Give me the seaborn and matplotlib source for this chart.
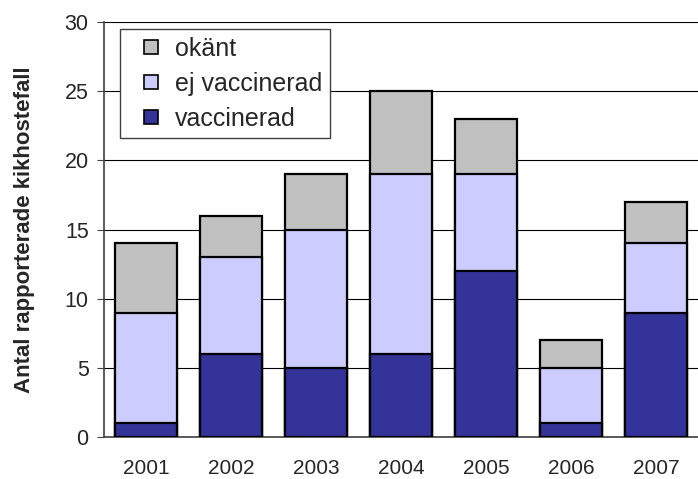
import numpy as np
import pandas as pd
import matplotlib
matplotlib.use('Agg')
import matplotlib.pyplot as plt
import seaborn as sns
from matplotlib.lines import Line2D

years = ['2001', '2002', '2003', '2004', '2005', '2006', '2007']
vaccinerad = [1, 6, 5, 6, 12, 1, 9]
ej_vaccinerad = [8, 7, 10, 13, 7, 4, 5]
okant = [5, 3, 4, 6, 4, 2, 3]

c_okant = '#C0C0C0'
c_ej = '#CCCCFF'
c_vacc = '#333399'

sns.set_style('white')
plt.rcParams['font.family'] = ['Liberation Sans', 'DejaVu Sans']

df = pd.DataFrame({'year': years, 'vacc': vaccinerad, 'ej': ej_vaccinerad, 'okant': okant})
df['top2'] = df['vacc'] + df['ej']
df['top3'] = df['top2'] + df['okant']

fig = plt.figure(figsize=(6.98, 4.79), dpi=100)
ax = fig.add_axes([0.149, 0.0877, 0.852, 0.866])

# stacked bars: draw cumulative totals, largest first
for col, color in [('top3', c_okant), ('top2', c_ej), ('vacc', c_vacc)]:
    sns.barplot(data=df, x='year', y=col, color=color, width=0.73,
                edgecolor='black', linewidth=1.6, saturation=1, ax=ax, zorder=3)

ax.set_ylim(0, 30)
ax.set_xlim(-0.5, 6.5)
ax.set_yticks(range(0, 31, 5))
ax.yaxis.grid(True, color='black', linewidth=0.8, zorder=0)
ax.set_axisbelow(True)
for s in ['top', 'right']:
    ax.spines[s].set_visible(False)
ax.spines['left'].set_color('#404040')
ax.spines['bottom'].set_color('#404040')
ax.spines['left'].set_linewidth(1.2)
ax.spines['bottom'].set_linewidth(1.2)

ax.set_xticks(np.arange(7))
ax.set_xticklabels(years, fontsize=15)
ax.set_xticks(np.arange(-0.5, 7, 1), minor=True)
ax.tick_params(axis='x', which='major', length=0, pad=16)
ax.tick_params(axis='x', which='minor', length=5, color='#404040', direction='out')
ax.tick_params(axis='y', labelsize=15.5, length=5, pad=6, color='#404040',
               direction='out', left=True)
ax.set_xlabel('')
ax.set_ylabel('Antal rapporterade kikhostefall', fontsize=16, fontweight='bold', labelpad=21)

handles = [Line2D([], [], marker='s', linestyle='none', markersize=10.5,
                  markerfacecolor=c, markeredgecolor='black', markeredgewidth=1.2, label=lab)
           for c, lab in [(c_okant, 'okänt'), (c_ej, 'ej vaccinerad'), (c_vacc, 'vaccinerad')]]
leg = ax.legend(handles=handles, loc='upper left', bbox_to_anchor=(0.027, 0.983),
                borderaxespad=0, fontsize=18, fancybox=False, framealpha=1,
                edgecolor='#404040', handlelength=1.85, handletextpad=0.05,
                labelspacing=0.44, borderpad=0.3)
leg.get_frame().set_linewidth(1.0)

fig.savefig('out.png', dpi=100)
